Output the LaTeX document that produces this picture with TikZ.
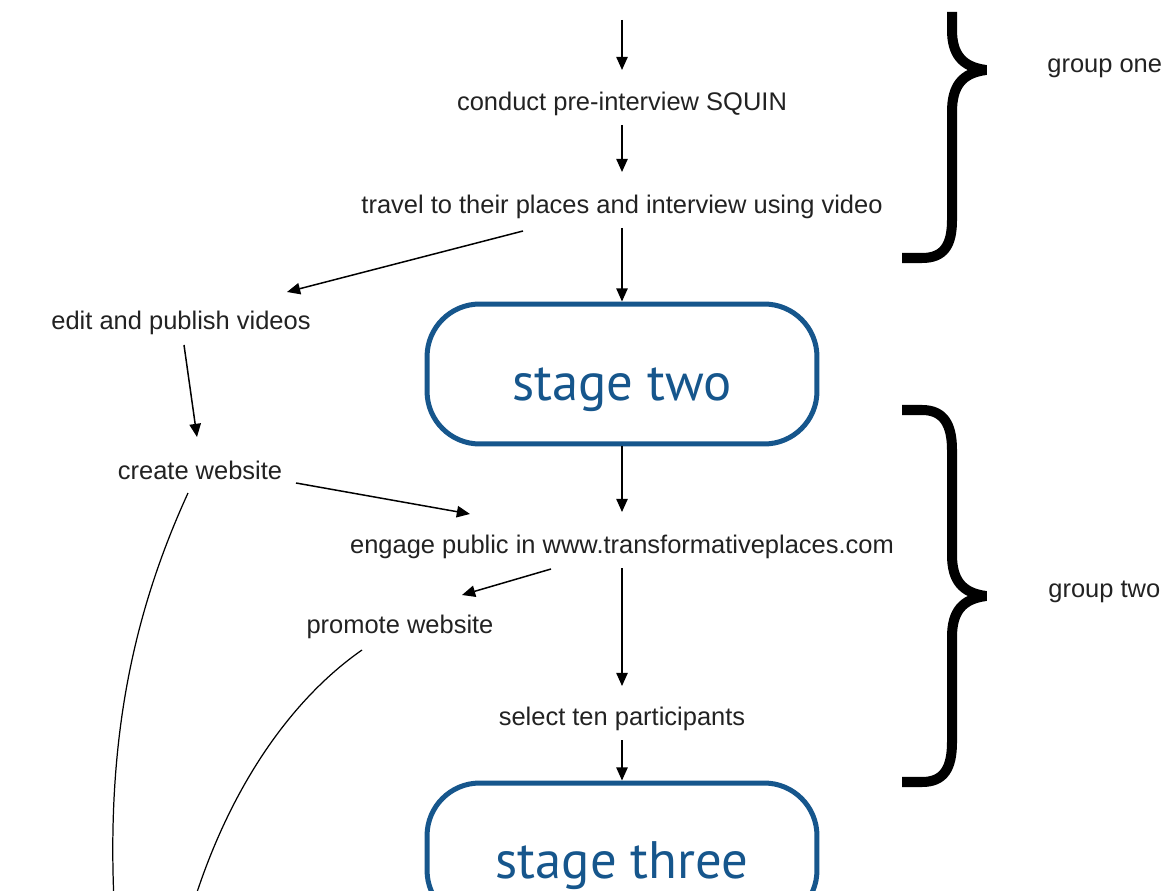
\documentclass[tikz,border=0pt]{standalone}
\usepackage{fontspec}
\setmainfont{Liberation Sans}
\newfontfamily\stagefont{PT Sans}
\usetikzlibrary{arrows.meta,calc}
\definecolor{stageblue}{RGB}{22,86,140}
\definecolor{txt}{RGB}{34,34,34}
\tikzset{
  lbl/.style={font=\fontsize{14.5}{16}\selectfont, text=txt, inner sep=0pt},
  arr/.style={draw=black, line width=0.85pt, -{Triangle[length=7.5pt,width=6.5pt]}},
  link/.style={draw=black, line width=0.7pt},
  stagebox/.style={draw=stageblue, line width=2.85pt, rounded corners=30pt,
    minimum width=7.8cm, minimum height=2.8cm, text=stageblue,
    font=\stagefont\fontsize{30}{32}\selectfont},
  stagetext/.style={text=stageblue, font=\stagefont\fontsize{30}{32}\selectfont, anchor=base, inner sep=0pt},
  bracepath/.style={draw=black, line width=5.7pt, line join=bevel, line cap=butt},
  grp/.style={font=\fontsize{14.5}{16}\selectfont, text=txt, anchor=west, inner sep=0pt}
}
\begin{document}
\begin{tikzpicture}[x=0.02cm,y=-0.02cm]
\useasboundingbox (0,0) rectangle (1165,891);
\clip (0,0) rectangle (1165,891);
% nodes
\coordinate (topc) at (622,20);
\node[lbl] (conduct) at (622,104) {conduct pre-interview SQUIN};
\node[lbl] (travel) at (622,207) {travel to their places and interview using video};
\node[lbl] (edit) at (181,323) {edit and publish videos};
\node[stagebox] (s2) at (622,374) {};
\node[stagetext] (s2t) at (622,400) {stage two};
\node[lbl] (create) at (200,470) {create website};
\node[lbl] (engage) at (622,547) {engage public in www.transformativeplaces.com};
\node[lbl] (promote) at (400,627) {promote website};
\node[lbl] (select) at (622,719) {select ten participants};
\node[stagebox] (s3) at (622,853) {};
\node[stagetext] (s3t) at (622,878) {stage three};
\coordinate (below1) at (118,960);
\coordinate (below2) at (178,960);
% arrows
\draw[arr] (topc) -- ($(conduct)+(0,-34)$);
\draw[arr] ($(conduct)+(0,21)$) -- ($(travel)+(0,-35)$);
\draw[arr] ($(travel)+(0,21)$) -- (s2.north);
\draw[arr] ($(travel)+(-99,24)$) -- ($(edit)+(106,-31)$);
\draw[arr] ($(edit)+(3,22)$) -- ($(create)+(-3,-33)$);
\draw[arr] ($(create)+(96,13)$) -- ($(engage)+(-152,-33)$);
\draw[arr] (s2.south) -- ($(engage)+(0,-35)$);
\draw[arr] ($(engage)+(-71,22)$) -- ($(promote)+(62,-32)$);
\draw[arr] ($(engage)+(0,21)$) -- ($(select)+(0,-33)$);
\draw[arr] ($(select)+(0,21)$) -- (s3.north);
% curves
\draw[link] ($(create)+(-12,23)$) .. controls (130,620) and (100,760) .. (below1);
\draw[link] ($(promote)+(-38,23)$) .. controls (290,700) and (215,800) .. (below2);
% braces
\draw[bracepath] (902,258) -- (922,258) .. controls (944,258) and (952,245) .. (952,220)
  -- (952,112) .. controls (952,86) and (962,73) .. (986,70)
  .. controls (962,67) and (952,54) .. (952,30) -- (952,12);
\node[grp] (g1) at (1047,68) {group one};
\draw[bracepath] (902,410) -- (922,410) .. controls (944,410) and (952,425) .. (952,450)
  -- (952,555) .. controls (952,580) and (962,593) .. (986,596)
  .. controls (962,599) and (952,612) .. (952,637)
  -- (952,742) .. controls (952,768) and (944,782) .. (922,782) -- (902,782);
\node[grp] (g2) at (1048,592) {group two};
\end{tikzpicture}
\end{document}
